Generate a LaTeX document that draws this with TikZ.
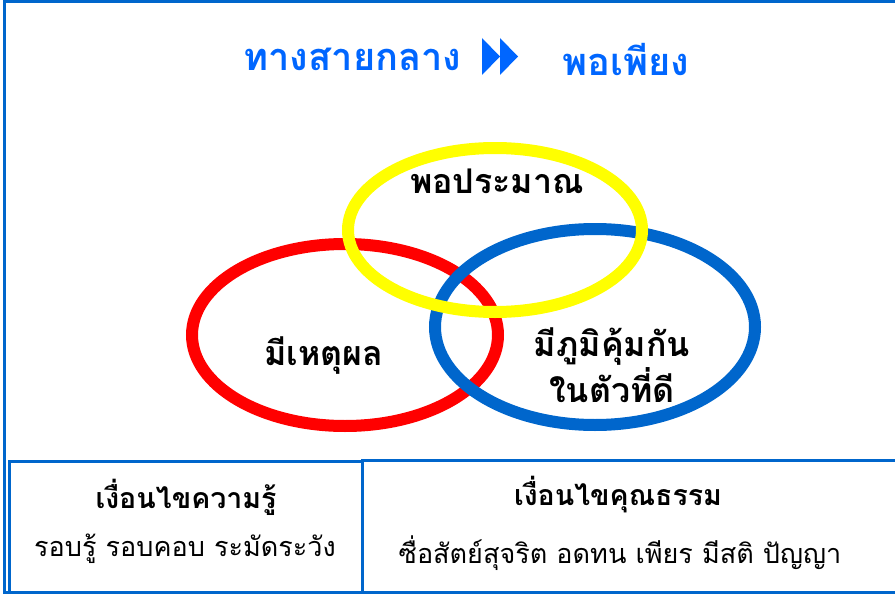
\documentclass[tikz,border=0pt]{standalone}
\usepackage{fontspec}
\newfontfamily\thai[Script=Thai]{Loma}
\definecolor{frameblue}{HTML}{0066CC}
\definecolor{titleblue}{HTML}{0066FF}
\definecolor{ellred}{HTML}{FF0000}
\definecolor{ellyellow}{HTML}{FFFF00}
\definecolor{ellblue}{HTML}{0066CC}
\tikzset{
  ring/.style={line width=12pt},
  framebox/.style={draw=frameblue, line width=3pt},
  bigtxt/.style={font=\thai\bfseries\fontsize{34}{46}\selectfont, text=black, align=center},
  titletxt/.style={font=\thai\bfseries\fontsize{38}{42}\selectfont, text=titleblue},
  headtxt/.style={font=\thai\bfseries\fontsize{28.5}{32}\selectfont, text=black},
  bodytxt/.style={font=\thai\fontsize{27}{31}\selectfont, text=black},
}
\begin{document}
\begin{tikzpicture}[x=1pt,y=-1pt]
\useasboundingbox (0,0) rectangle (895,594);
\begin{scope}
\clip (0,0) rectangle (895,594);
\draw[framebox] (4.5,1.5) rectangle (905,592.5);
\draw[framebox] (9.5,461.5) rectangle (362.5,592.5);
\draw[framebox] (362.5,460) rectangle (905,592.5);
\end{scope}
% title
\node[titletxt] (t1) at (352.5,59) {ทางสายกลาง};
\fill[titleblue] (482,38) -- (500,56.5) -- (482,75) -- cycle;
\fill[titleblue] (500,38) -- (518,56.5) -- (500,75) -- cycle;
\node[titletxt] (t2) at (626,59) {พอเพียง};
% rings
\draw[ring, ellred] (345,335) ellipse [x radius=153, y radius=91];
\draw[ring, ellblue] (595,327) ellipse [x radius=160, y radius=98];
\draw[ring, ellyellow] (495,230) ellipse [x radius=147, y radius=82];
\node[bigtxt] (a) at (497,181) {พอประมาณ};
\node[bigtxt] (b) at (324,356) {มีเหตุผล};
\node[bigtxt] (c) at (612,365) {มีภูมิคุ้มกัน\\ในตัวที่ดี};
% bottom
\node[headtxt] (k1) at (186,497) {เงื่อนไขความรู้};
\node[bodytxt] (k2) at (185,549) {รอบรู้ รอบคอบ ระมัดระวัง};
\node[headtxt] (m1) at (618,495) {เงื่อนไขคุณธรรม};
\node[bodytxt] (m2) at (620,553) {ซื่อสัตย์สุจริต อดทน เพียร มีสติ ปัญญา};
\end{tikzpicture}
\end{document}
